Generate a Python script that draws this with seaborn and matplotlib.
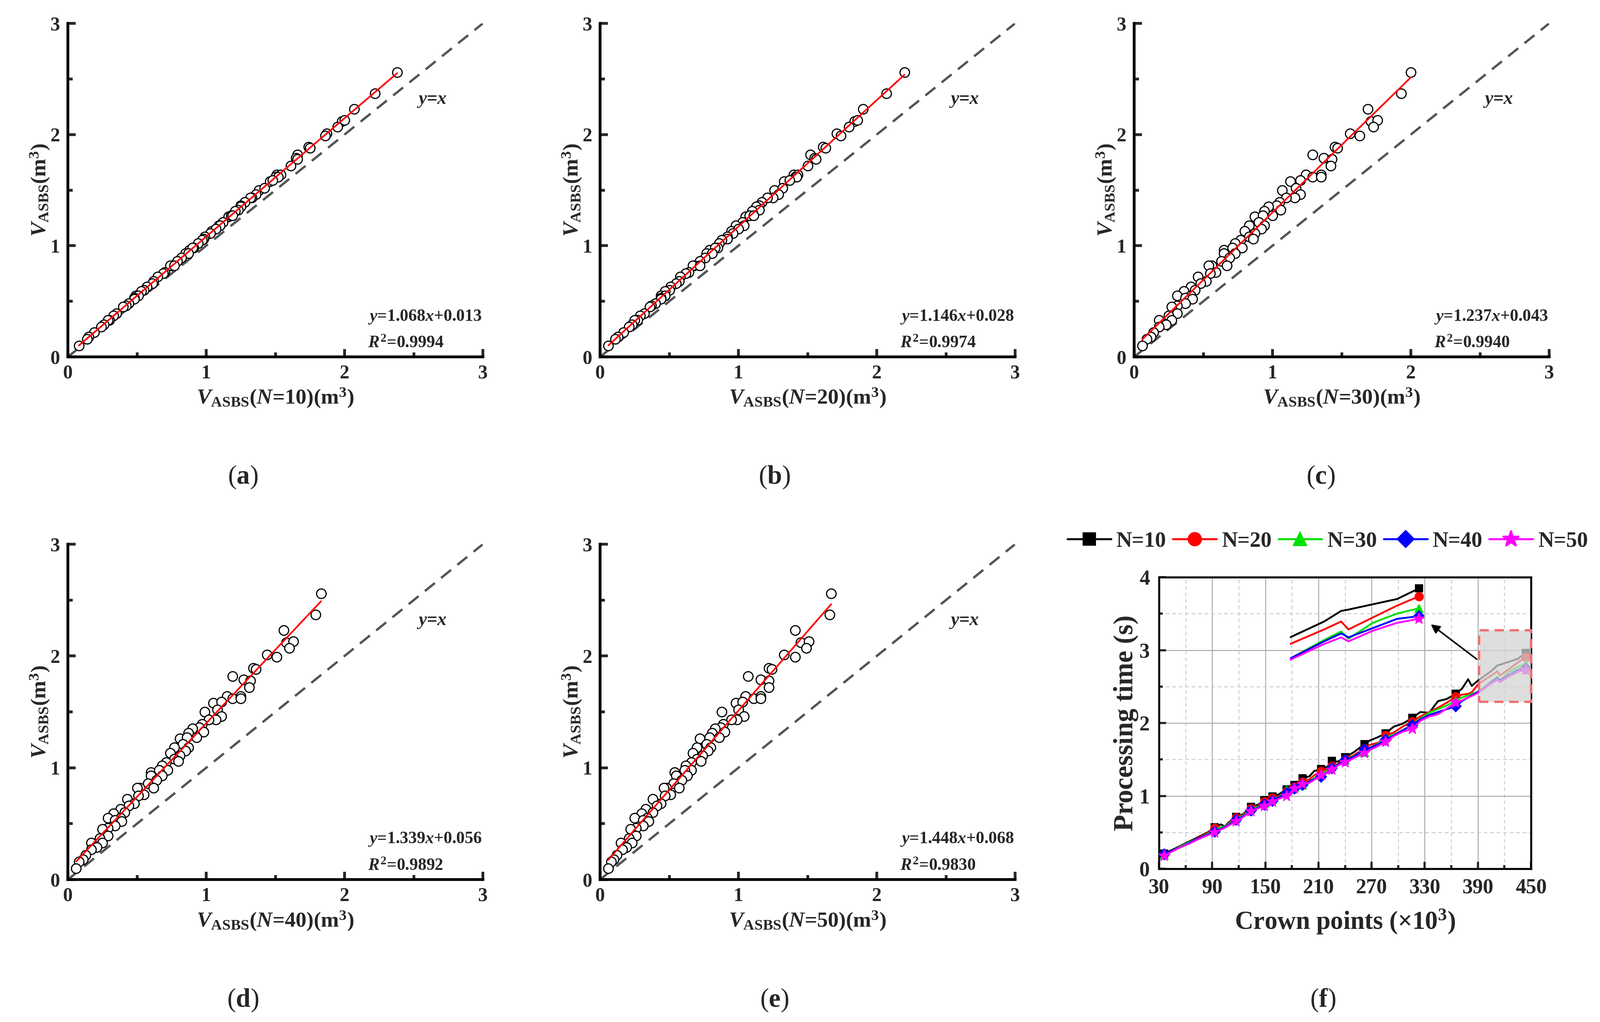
import numpy as np
import pandas as pd
import matplotlib
matplotlib.use('Agg')
import matplotlib.pyplot as plt
import seaborn as sns
from matplotlib.lines import Line2D
from matplotlib.patches import Rectangle

# reference volume (y axis of panels a-e), shared by all panels
y_ref = [2.56, 2.37, 2.23, 2.12, 2.13, 2.07, 2.01, 1.99, 1.89, 1.88,
         1.82, 1.79, 1.78, 1.72, 1.64, 1.62, 1.64, 1.62, 1.58, 1.59,
         1.50, 1.52, 1.46, 1.43, 1.43, 1.39, 1.36, 1.35, 1.32, 1.31,
         1.26, 1.27, 1.27, 1.21, 1.18, 1.18, 1.13, 1.15, 1.11, 1.08,
         1.06, 1.05, 1.02, 0.98, 0.96, 0.98, 0.93, 0.93, 0.89, 0.86,
         0.82, 0.82, 0.82, 0.76, 0.75, 0.72, 0.68, 0.66, 0.63, 0.60,
         0.59, 0.55, 0.55, 0.53, 0.52, 0.48, 0.46, 0.45, 0.39, 0.37,
         0.33, 0.33, 0.29, 0.27, 0.22, 0.18, 0.16, 0.10]

x_n10 = [2.38, 2.22, 2.07, 1.98, 2.00, 1.95, 1.87, 1.86, 1.74, 1.75,
         1.66, 1.65, 1.66, 1.61, 1.51, 1.50, 1.54, 1.52, 1.46, 1.48,
         1.38, 1.42, 1.36, 1.33, 1.32, 1.28, 1.25, 1.25, 1.23, 1.21,
         1.16, 1.18, 1.19, 1.12, 1.09, 1.10, 1.04, 1.07, 1.03, 0.99,
         0.98, 0.97, 0.94, 0.91, 0.88, 0.90, 0.85, 0.87, 0.82, 0.79,
         0.75, 0.74, 0.77, 0.70, 0.69, 0.65, 0.62, 0.61, 0.57, 0.55,
         0.53, 0.49, 0.51, 0.48, 0.48, 0.44, 0.42, 0.40, 0.35, 0.33,
         0.30, 0.29, 0.26, 0.24, 0.19, 0.15, 0.14, 0.08]

x_n20 = [2.20, 2.07, 1.90, 1.84, 1.86, 1.80, 1.71, 1.74, 1.61, 1.63,
         1.52, 1.55, 1.56, 1.50, 1.40, 1.41, 1.43, 1.42, 1.33, 1.37,
         1.26, 1.32, 1.29, 1.25, 1.21, 1.17, 1.15, 1.13, 1.15, 1.10,
         1.05, 1.08, 1.11, 1.03, 0.98, 1.04, 0.95, 1.00, 0.96, 0.92,
         0.92, 0.88, 0.86, 0.85, 0.79, 0.83, 0.77, 0.81, 0.76, 0.72,
         0.68, 0.67, 0.72, 0.64, 0.62, 0.58, 0.57, 0.55, 0.51, 0.50,
         0.47, 0.44, 0.47, 0.44, 0.44, 0.40, 0.37, 0.36, 0.32, 0.29,
         0.27, 0.25, 0.23, 0.21, 0.17, 0.13, 0.11, 0.06]

x_n30 = [2.00, 1.93, 1.69, 1.71, 1.76, 1.73, 1.56, 1.63, 1.45, 1.47,
         1.29, 1.37, 1.43, 1.42, 1.24, 1.29, 1.35, 1.35, 1.13, 1.20,
         1.07, 1.17, 1.20, 1.16, 1.10, 1.05, 1.03, 0.97, 1.06, 0.94,
         0.87, 0.93, 1.00, 0.90, 0.83, 0.94, 0.80, 0.92, 0.87, 0.83,
         0.86, 0.77, 0.73, 0.78, 0.65, 0.71, 0.65, 0.73, 0.69, 0.63,
         0.56, 0.54, 0.67, 0.59, 0.55, 0.46, 0.52, 0.48, 0.41, 0.44,
         0.36, 0.31, 0.41, 0.37, 0.42, 0.37, 0.31, 0.27, 0.31, 0.25,
         0.27, 0.18, 0.23, 0.18, 0.14, 0.12, 0.09, 0.06]

x_n40 = [1.83, 1.79, 1.56, 1.58, 1.63, 1.60, 1.44, 1.51, 1.34, 1.36,
         1.19, 1.27, 1.32, 1.31, 1.15, 1.19, 1.25, 1.25, 1.05, 1.11,
         0.99, 1.08, 1.11, 1.07, 1.02, 0.97, 0.95, 0.90, 0.98, 0.87,
         0.81, 0.86, 0.93, 0.83, 0.77, 0.87, 0.74, 0.85, 0.81, 0.77,
         0.80, 0.71, 0.68, 0.72, 0.60, 0.66, 0.60, 0.68, 0.64, 0.58,
         0.52, 0.50, 0.62, 0.55, 0.51, 0.43, 0.48, 0.44, 0.38, 0.41,
         0.33, 0.29, 0.38, 0.34, 0.39, 0.34, 0.29, 0.25, 0.29, 0.23,
         0.25, 0.17, 0.21, 0.17, 0.13, 0.11, 0.08, 0.06]

x_n50 = [1.67, 1.66, 1.41, 1.45, 1.51, 1.49, 1.33, 1.41, 1.22, 1.24,
         1.07, 1.16, 1.22, 1.22, 1.05, 1.11, 1.16, 1.16, 0.98, 1.03,
         0.88, 1.00, 1.04, 0.99, 0.95, 0.89, 0.87, 0.83, 0.90, 0.81,
         0.72, 0.79, 0.86, 0.77, 0.70, 0.80, 0.67, 0.78, 0.74, 0.70,
         0.73, 0.66, 0.62, 0.66, 0.54, 0.61, 0.55, 0.63, 0.59, 0.53,
         0.48, 0.46, 0.57, 0.51, 0.47, 0.38, 0.44, 0.41, 0.33, 0.38,
         0.30, 0.25, 0.34, 0.31, 0.35, 0.31, 0.26, 0.22, 0.26, 0.21,
         0.23, 0.15, 0.19, 0.16, 0.12, 0.10, 0.08, 0.06]

n_values = [10, 20, 30, 40, 50]
fit_slope = ['1.068', '1.146', '1.237', '1.339', '1.448']
fit_icpt = ['0.013', '0.028', '0.043', '0.056', '0.068']
fit_r2 = ['0.9994', '0.9974', '0.9940', '0.9892', '0.9830']

# panel (f): processing time vs crown points (x10^3)
crown_k = [36, 45, 55, 65, 75, 85, 93, 100, 104, 108,
           117, 125, 134, 142, 149, 158, 165, 174, 183, 192,
           200, 205, 213, 220, 225, 232, 240, 250, 262, 268,
           278, 286, 295, 305, 316, 325, 335, 345, 355, 365,
           372, 379, 383, 391, 405, 412, 415, 425, 435, 444]
t_n10 = [0.21, 0.26, 0.32, 0.38, 0.44, 0.50, 0.57, 0.61, 0.58, 0.63,
         0.71, 0.75, 0.85, 0.88, 0.94, 0.99, 1.02, 1.09, 1.15, 1.24,
         1.27, 1.34, 1.37, 1.40, 1.48, 1.47, 1.53, 1.60, 1.71, 1.76,
         1.81, 1.86, 1.95, 1.99, 2.07, 2.15, 2.14, 2.30, 2.33, 2.40,
         2.47, 2.60, 2.51, 2.59, 2.71, 2.79, 2.80, 2.84, 2.88, 2.96]
t_n20 = [0.20, 0.25, 0.31, 0.37, 0.43, 0.49, 0.56, 0.57, 0.58, 0.62,
         0.70, 0.74, 0.83, 0.86, 0.92, 0.97, 0.99, 1.06, 1.12, 1.19,
         1.23, 1.28, 1.34, 1.37, 1.41, 1.44, 1.50, 1.56, 1.65, 1.70,
         1.73, 1.83, 1.87, 1.95, 2.02, 2.09, 2.15, 2.21, 2.28, 2.36,
         2.39, 2.40, 2.42, 2.54, 2.65, 2.71, 2.65, 2.74, 2.83, 2.90]
t_n30 = [0.19, 0.25, 0.31, 0.37, 0.42, 0.48, 0.54, 0.57, 0.58, 0.61,
         0.69, 0.73, 0.82, 0.85, 0.90, 0.95, 0.98, 1.08, 1.12, 1.15,
         1.20, 1.24, 1.30, 1.35, 1.40, 1.43, 1.49, 1.55, 1.60, 1.66,
         1.72, 1.80, 1.84, 1.90, 1.98, 2.06, 2.14, 2.19, 2.24, 2.31,
         2.35, 2.38, 2.40, 2.43, 2.57, 2.635, 2.58, 2.70, 2.77, 2.81]
t_n40 = [0.20, 0.25, 0.30, 0.36, 0.42, 0.47, 0.51, 0.55, 0.57, 0.60,
         0.67, 0.72, 0.80, 0.84, 0.88, 0.93, 0.98, 1.04, 1.10, 1.15,
         1.20, 1.23, 1.26, 1.32, 1.38, 1.43, 1.49, 1.54, 1.64, 1.66,
         1.71, 1.77, 1.83, 1.90, 1.97, 2.05, 2.11, 2.15, 2.19, 2.23,
         2.30, 2.35, 2.38, 2.43, 2.56, 2.62, 2.59, 2.66, 2.73, 2.75]
t_n50 = [0.18, 0.24, 0.30, 0.35, 0.41, 0.46, 0.50, 0.54, 0.56, 0.59,
         0.65, 0.71, 0.79, 0.83, 0.86, 0.92, 0.96, 1.00, 1.10, 1.16,
         1.18, 1.22, 1.28, 1.33, 1.36, 1.42, 1.46, 1.52, 1.59, 1.63,
         1.69, 1.74, 1.82, 1.88, 1.92, 2.03, 2.09, 2.12, 2.20, 2.28,
         2.31, 2.35, 2.37, 2.42, 2.54, 2.59, 2.56, 2.64, 2.70, 2.73]
mark_idx = [0, 6, 10, 12, 14, 15, 17, 18, 19, 22, 24, 26, 28, 31, 34, 39, 49]
inset_start = 43

series_colors = ['black', 'red', '#00e000', '#0000ff', '#ff00ff']
series_markers = ['s', 'o', '^', 'D', '*']
series_msize = [5, 5.5, 5.5, 5, 7.5]

sns.set_theme(style='ticks')
plt.rcParams['font.family'] = ['Liberation Serif', 'DejaVu Serif']
plt.rcParams['font.weight'] = 'bold'
plt.rcParams['axes.labelweight'] = 'bold'
plt.rcParams['mathtext.fontset'] = 'custom'
plt.rcParams['mathtext.rm'] = 'Liberation Serif:bold'
plt.rcParams['mathtext.it'] = 'Liberation Serif:italic:bold'
plt.rcParams['mathtext.bf'] = 'Liberation Serif:bold'

W, H = 4314, 2755
fig = plt.figure(figsize=(W / 300, H / 300), dpi=300)


def px_rect(left, top, right, bottom):
    return [left / W, 1 - bottom / H, (right - left) / W, (bottom - top) / H]


def scatter_panel(rect, xv, k):
    ax = fig.add_axes(rect)
    ax.plot([0, 3], [0, 3], ls=(0, (5.5, 3.5)), color='#555555', lw=1.5, zorder=1)
    sns.scatterplot(x=xv, y=y_ref, ax=ax, marker='o', s=38, color='white',
                    edgecolor='black', linewidth=0.75, zorder=2)
    sns.regplot(x=xv, y=y_ref, ax=ax, scatter=False, ci=None,
                line_kws=dict(color='red', lw=1.1, zorder=3))
    ax.set_xlim(0, 3)
    ax.set_ylim(0, 3)
    ax.set_xticks([0, 1, 2, 3])
    ax.set_yticks([0, 1, 2, 3])
    ax.set_xticks([0.5, 1.5, 2.5], minor=True)
    ax.set_yticks([0.5, 1.5, 2.5], minor=True)
    ax.tick_params(which='both', direction='in', width=1.8, labelsize=12.5, pad=5)
    ax.tick_params(which='major', length=5)
    ax.tick_params(which='minor', length=3)
    for s in ['top', 'right']:
        ax.spines[s].set_visible(False)
    for s in ['left', 'bottom']:
        ax.spines[s].set_linewidth(1.8)
        ax.spines[s].set_color('black')
    ax.set_xlabel(r'$\mathit{V}_{\mathrm{ASBS}}$($\mathit{N}$=%d)(m$^{3}$)' % n_values[k],
                  fontsize=14)
    ax.set_ylabel(r'$\mathit{V}_{\mathrm{ASBS}}$(m$^{3}$)', fontsize=14)
    ax.xaxis.set_label_coords(0.5, -0.09)
    ax.yaxis.set_label_coords(-0.04, 0.5)
    ax.text(2.63, 2.31, r'$\mathit{y}$=$\mathit{x}$', fontsize=12, ha='center', va='center')
    ax.text(2.17, 0.36, r'$\mathit{y}$=%s$\mathit{x}$+%s' % (fit_slope[k], fit_icpt[k]),
            fontsize=11, ha='left', va='center')
    ax.text(2.17, 0.12, r'$\mathit{R}^{2}$=%s' % fit_r2[k],
            fontsize=11, ha='left', va='center')
    return ax


scatter_panel(px_rect(183, 63, 1302, 962), x_n10, 0)
scatter_panel(px_rect(1618, 63, 2737, 962), x_n20, 1)
scatter_panel(px_rect(3058, 63, 4177, 962), x_n30, 2)
scatter_panel(px_rect(183, 1467, 1302, 2371), x_n40, 3)
scatter_panel(px_rect(1618, 1467, 2737, 2371), x_n50, 4)

# panel (f)
axf = fig.add_axes(px_rect(3125, 1556, 4128, 2342))
times = [t_n10, t_n20, t_n30, t_n40, t_n50]
for i in range(5):
    sns.lineplot(x=crown_k, y=times[i], ax=axf, color=series_colors[i], lw=1.2,
                 marker=series_markers[i], markersize=series_msize[i],
                 markeredgecolor=series_colors[i], markeredgewidth=0.5,
                 markevery=mark_idx, errorbar=None, legend=False, zorder=3 + i)
axf.set_xlim(30, 450)
axf.set_ylim(0, 4)
axf.set_xticks(np.arange(30, 451, 60))
axf.set_xticks(np.arange(60, 450, 60), minor=True)
axf.set_yticks([0, 1, 2, 3, 4])
axf.set_yticks([0.5, 1.5, 2.5, 3.5], minor=True)
axf.set_axisbelow(True)
axf.grid(which='major', color='#a8a8a8', lw=0.6, ls='-')
axf.grid(which='minor', color='#cccccc', lw=0.6, ls=(0, (4, 3)))
axf.tick_params(which='both', direction='in', width=1.4, labelsize=13.5, pad=6,
                top=False, right=False)
axf.tick_params(which='major', length=4.5)
axf.tick_params(which='minor', length=2.5)
for s in axf.spines.values():
    s.set_linewidth(1.3)
    s.set_color('black')
axf.set_xlabel(r'Crown points (×10$^{3}$)', fontsize=16.5)
axf.set_ylabel('Processing time (s)', fontsize=17.5)
axf.xaxis.set_label_coords(0.5, -0.135)
axf.yaxis.set_label_coords(-0.055, 0.5)

# zoomed inset of the end of the curves
ins = axf.inset_axes([178, 2.739, 151, 1.18], transform=axf.transData)
for i in range(5):
    sns.lineplot(x=crown_k[inset_start:], y=times[i][inset_start:], ax=ins,
                 color=series_colors[i], lw=1.2, marker=series_markers[i],
                 markersize=series_msize[i], markeredgecolor=series_colors[i],
                 markeredgewidth=0.5, markevery=[len(crown_k) - inset_start - 1],
                 errorbar=None, legend=False, zorder=3 + i)
ins.set_xlim(391, 446)
ins.set_ylim(2.35, 3.0)
ins.set_xticks([])
ins.set_yticks([])
ins.set_xlabel('')
ins.set_ylabel('')
ins.axis('off')
ins.patch.set_alpha(0)

axf.add_patch(Rectangle((391.5, 2.29), 58.5, 0.98, facecolor='#d4d4d4', alpha=0.75,
                        edgecolor='none', zorder=9))
axf.add_patch(Rectangle((391.5, 2.29), 58.5, 0.98, facecolor='none', edgecolor='#f07070',
                        lw=1.5, ls=(0, (4, 2.5)), zorder=10, clip_on=False))
axf.annotate('', xy=(334, 3.38), xytext=(391.5, 2.85),
             arrowprops=dict(arrowstyle='-|>', color='black', lw=1.0, mutation_scale=12),
             zorder=11)

handles = [Line2D([], [], color=series_colors[i], lw=1.3, marker=series_markers[i],
                  markersize=series_msize[i] * 1.5, markeredgecolor=series_colors[i])
           for i in range(5)]
fig.legend(handles, ['N=%d' % n for n in n_values], loc='center',
           bbox_to_anchor=(3580 / W, 1 - 1459 / H), ncol=5, frameon=False,
           handlelength=2.0, columnspacing=0.3, handletextpad=0.25, borderpad=0.1,
           prop=dict(weight='bold', size=14.1))

# panel tags
for tag, cx, cy in [('a', 655, 1286), ('b', 2088, 1286), ('c', 3561, 1286),
                    ('d', 655, 2696), ('e', 2088, 2696), ('f', 3567, 2696)]:
    fig.text(cx / W, 1 - cy / H, r'($\mathbf{%s}$)' % tag, fontsize=17,
             fontweight='normal', ha='center', va='center')

fig.savefig('out.png', dpi=300, facecolor='white')
